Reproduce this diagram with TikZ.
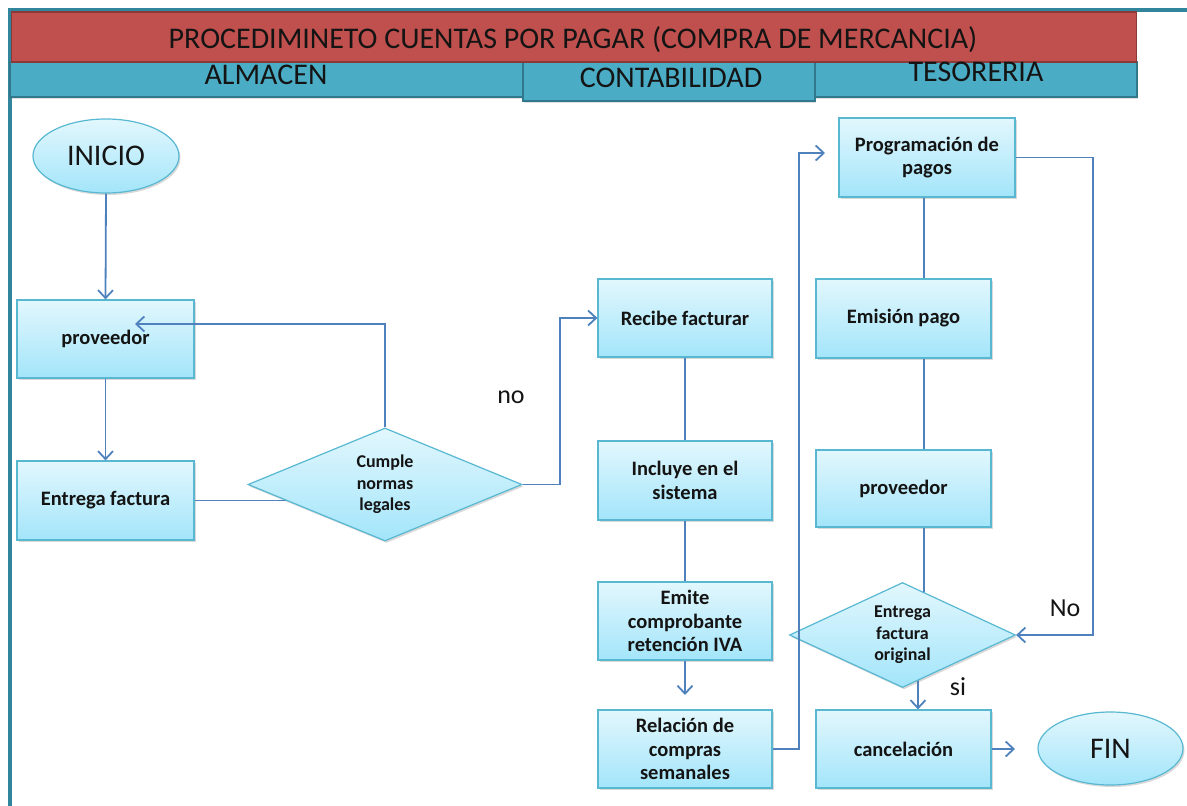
\documentclass[tikz,border=0pt]{standalone}
\usepackage{fontspec}
\setmainfont{Carlito}
\usetikzlibrary{shapes.geometric,arrows.meta,shadows,calc}

\definecolor{frameteal}{RGB}{49,133,156}
\definecolor{titlered}{RGB}{192,80,77}
\definecolor{titleredline}{RGB}{140,58,56}
\definecolor{lanefill}{RGB}{75,172,198}
\definecolor{laneline}{RGB}{49,120,140}
\definecolor{boxtop}{RGB}{226,247,253}
\definecolor{boxbot}{RGB}{163,229,250}
\definecolor{boxline}{RGB}{88,184,210}
\definecolor{flow}{RGB}{79,129,189}
\definecolor{ink}{RGB}{20,20,20}

\pgfdeclarelayer{background}
\pgfsetlayers{background,main}

\tikzset{
  softshadow/.style={drop shadow={opacity=0.3, shadow xshift=1.5pt, shadow yshift=-2pt}},
  stepbox/.style={rectangle, draw=boxline, line width=1.2pt,
    top color=boxtop, bottom color=boxbot, softshadow,
    font=\fontsize{20.5}{23.5}\selectfont\bfseries, text=ink,
    align=center, inner sep=2pt},
  terminal/.style={ellipse, draw=boxline, line width=1.2pt,
    top color=boxtop, bottom color=boxbot, softshadow,
    font=\fontsize{30}{32}\selectfont, text=ink, inner sep=0pt},
  decision/.style={diamond, shape aspect=2, draw=boxline, line width=1.2pt,
    top color=boxtop, bottom color=boxbot, softshadow,
    font=\fontsize{18}{21.5}\selectfont\bfseries, text=ink,
    align=center, inner sep=0pt},
  titlebar/.style={rectangle, fill=titlered, draw=titleredline, line width=1.5pt, inner sep=0pt},
  lanebar/.style={rectangle, fill=lanefill, draw=laneline, line width=1.5pt, inner sep=0pt,
    drop shadow={opacity=0.25, shadow xshift=1pt, shadow yshift=-1.5pt}},
  headtext/.style={font=\fontsize{30}{32}\selectfont, text=ink, inner sep=0pt},
  answer/.style={font=\fontsize{26}{28}\selectfont, text=ink, inner sep=0pt},
  frameline/.style={draw=frameteal, line width=3.5pt},
  flowline/.style={draw=flow, line width=1.8pt},
  flowarrow/.style={flowline, -{Straight Barb[length=8pt,width=15pt,line width=1.8pt]}},
}

\begin{document}
\begin{tikzpicture}[x=1pt,y=-1pt]
\useasboundingbox (0,0) rectangle (1187,806);

% outer frame
\draw[frameline] (8,10) -- (1187,10);
\draw[frameline] (10,10) -- (10,806);

% swimlane headers
\node[lanebar, minimum width=513pt, minimum height=35pt] (laneA) at (266.5,79.5) {};
\node[lanebar, minimum width=322pt, minimum height=35pt] (laneC) at (976,79.5) {};
\node[lanebar, minimum width=292pt, minimum height=39pt] (laneB) at (669,81.5) {};
\node[titlebar, minimum width=1125pt, minimum height=50pt] (title) at (574,37) {};

\node[headtext, text depth=0pt] (titletext) at (573,38) {PROCEDIMINETO CUENTAS POR PAGAR (COMPRA DE MERCANCIA)};
\node[headtext] (almacen) at (266,75) {ALMACEN};
\node[headtext] (contab) at (671,78) {CONTABILIDAD};
\node[headtext] (tesor) at (976,72) {TESORERIA};

% ALMACEN column
\node[terminal, minimum width=146pt, minimum height=74pt] (ini) at (106,156) {INICIO};
\node[stepbox, minimum width=177pt, minimum height=78pt] (p1) at (105.5,339) {proveedor};
\node[stepbox, minimum width=177pt, minimum height=79pt] (ef) at (105.5,500.5) {Entrega factura};
\node[decision, minimum width=274pt, minimum height=113pt] (d1) at (385,484.5) {Cumple\\normas\\legales};

% CONTABILIDAD column
\node[stepbox, minimum width=174pt, minimum height=78pt] (rf) at (685,318) {Recibe facturar};
\node[stepbox, minimum width=174pt, minimum height=79pt] (inc) at (685,480.5) {Incluye en el\\sistema};
\node[stepbox, minimum width=174pt, minimum height=78pt] (emi) at (685,621) {Emite\\comprobante\\retención IVA};
\node[stepbox, minimum width=174pt, minimum height=78pt] (rel) at (685,749) {Relación de\\compras\\semanales};

% TESORERIA column
\node[stepbox, minimum width=176pt, minimum height=79pt] (prog) at (927,157.5) {Programación de\\pagos};
\node[stepbox, minimum width=175pt, minimum height=79pt] (emis) at (903.5,318.5) {Emisión pago};
\node[stepbox, minimum width=175pt, minimum height=77pt] (p2) at (903.5,488.5) {proveedor};
\node[decision, minimum width=226pt, minimum height=105pt] (d2) at (902.5,635) {Entrega\\factura\\original};
\node[stepbox, minimum width=175pt, minimum height=78pt] (canc) at (903.5,749) {cancelación};
\node[terminal, minimum width=145pt, minimum height=73pt] (fin) at (1110.5,748.5) {FIN};

% answer labels
\node[answer] (nolbl) at (511,397) {no};
\node[answer] (Nolbl) at (1065,608) {No};
\node[answer] (silbl) at (958,687) {si};

% helper points for routed connectors
\coordinate (backtip) at (135,324);
\coordinate (noturn) at (560,0);
\coordinate (emitip) at (685,695);
\coordinate (paycol) at (799,0);
\coordinate (pagtip) at (825,153);
\coordinate (tescol) at (924,0);
\coordinate (nocol) at (1093,0);
\coordinate (sicol) at (918,0);
\coordinate (fintip) at (1015,749);

% connectors that run behind the shapes
\begin{pgfonlayer}{background}
  \draw[flowline] (ef.east) -- (ef.east -| d1.center);
  \draw[flowline] (prog.south -| tescol) -- (emis.north -| tescol);
  \draw[flowline] (emis.south -| tescol) -- (p2.north -| tescol);
  \draw[flowline] (p2.south -| tescol) -- (d2.center -| tescol);
  \draw[flowarrow] (d2.center -| sicol) -- (canc.north -| sicol);
\end{pgfonlayer}

% connectors
\draw[flowarrow] (ini.south) -- (p1.north);
\draw[flowarrow] (p1.south) -- (ef.north);
\draw[flowarrow] (d1.north) |- (backtip);
\draw[flowarrow] (d1.east) -- (d1.east -| noturn) |- (rf.west);
\draw[flowline] (rf.south) -- (inc.north);
\draw[flowline] (inc.south) -- (emi.north);
\draw[flowarrow] (emi.south) -- (emitip);
\draw[flowarrow] (rel.east) -| (paycol |- pagtip) -- (pagtip);
\draw[flowarrow] (prog.east) -| (nocol |- d2.east) -- (d2.east);
\draw[flowarrow] (canc.east) -- (fintip);
\end{tikzpicture}
\end{document}
